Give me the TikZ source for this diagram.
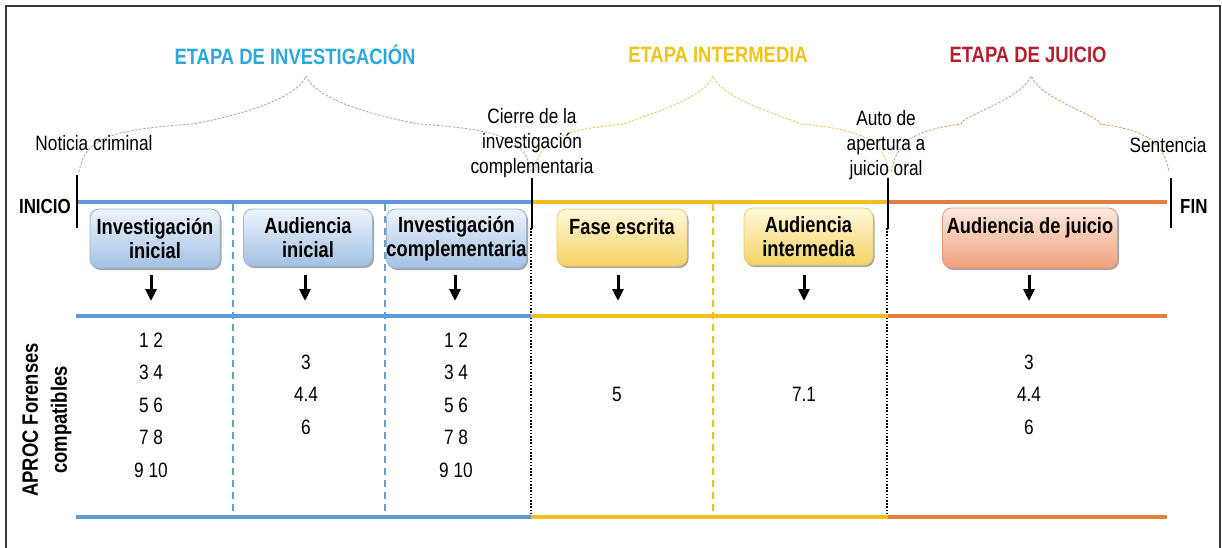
\documentclass[tikz,border=0pt]{standalone}
\usepackage{fontspec}
\setmainfont{Liberation Sans}[FakeStretch=0.83]
\usetikzlibrary{arrows.meta,shadows}
\definecolor{lineblue}{HTML}{5B9BD5}
\definecolor{lineyellow}{HTML}{F2BF1E}
\definecolor{lineorange}{HTML}{E0803E}
\definecolor{ttlblue}{HTML}{2DA8DC}
\definecolor{ttlyellow}{HTML}{F0C419}
\definecolor{ttlred}{HTML}{B3202D}
\definecolor{braceblue}{HTML}{8FA8C4}
\definecolor{braceyellow}{HTML}{E8C65A}
\definecolor{braceorange}{HTML}{D49A6A}
\definecolor{sepblue}{HTML}{6A9ED3}
\definecolor{framecol}{HTML}{3A3A3A}
\definecolor{bbdraw}{HTML}{97B6DC}
\definecolor{bbtop}{HTML}{EEF4FB}
\definecolor{bbbot}{HTML}{A3C1E4}
\definecolor{bydraw}{HTML}{EDCB6A}
\definecolor{bytop}{HTML}{FFF8DC}
\definecolor{bybot}{HTML}{F6D266}
\definecolor{bodraw}{HTML}{E89A77}
\definecolor{botop}{HTML}{FDE9DF}
\definecolor{bobot}{HTML}{EFA07B}
\newcommand{\mybrace}[4]{%
  \draw[bracepath,#4] (#1,172) .. controls (#1+6,140) and (#1+25,130) .. ({(#1+#2)/2},124)
    .. controls (#2-70,116) and (#2-10,100) .. (#2,76)
    .. controls (#2+10,100) and (#2+70,116) .. ({(#2+#3)/2},124)
    .. controls (#3-25,130) and (#3-6,140) .. (#3,172);}
\begin{document}
\begin{tikzpicture}[x=1pt,y=-1pt,
  lbl/.style={font=\fontsize{20.8}{25}\selectfont, align=center, inner sep=0pt},
  ttl/.style={font=\bfseries\fontsize{22.2}{26}\selectfont, inner sep=0pt},
  num/.style={font=\fontsize{20.8}{32.5}\selectfont, align=center, inner sep=0pt},
  endlbl/.style={font=\bfseries\fontsize{20.4}{24}\selectfont, inner sep=0pt},
  bracepath/.style={line width=0.8pt, dash pattern=on 2.5pt off 1.5pt},
  tline/.style={line width=4pt},
  bar/.style={line width=2.6pt, black},
  sepdash/.style={line width=1.3pt, dash pattern=on 7pt off 5pt},
  sepdot/.style={line width=1.6pt, black, dash pattern=on 1.6pt off 1.6pt},
  darr/.style={line width=3pt, black, -{Triangle[width=11pt,length=12pt]}},
  boxbase/.style={rounded corners=9pt, line width=0.8pt, inner sep=0pt, align=center,
    font=\bfseries\fontsize{22}{24.5}\selectfont,
    drop shadow={shadow xshift=1.5pt, shadow yshift=-2pt, opacity=0.35, fill=black}},
  boxblue/.style={boxbase, draw=bbdraw, top color=bbtop, bottom color=bbbot},
  boxyellow/.style={boxbase, draw=bydraw, top color=bytop, bottom color=bybot},
  boxorange/.style={boxbase, draw=bodraw, top color=botop, bottom color=bobot},
]
\useasboundingbox (0,0) rectangle (1222,548);
\fill[white] (0,0) rectangle (1222,548);
\draw[framecol, line width=1.5pt] (6,556) -- (6,6) -- (1220,6) -- (1220,556);

% titles
\node[ttl, text=ttlblue] (t1) at (295,55) {ETAPA DE INVESTIGACIÓN};
\node[ttl, text=ttlyellow] (t2) at (718,55) {ETAPA INTERMEDIA};
\node[ttl, text=ttlred] (t3) at (1028,55) {ETAPA DE JUICIO};

% braces
\mybrace{79}{306}{531}{braceblue}
\mybrace{534}{713}{889}{braceyellow}
\mybrace{891}{1031}{1169}{braceorange}

% milestone labels
\node[lbl] (noticia) at (94,143) {Noticia criminal};
\node[lbl] (cierre) at (532,143) {Cierre de la\\investigación\\complementaria};
\node[lbl] (auto) at (886,145) {Auto de\\apertura a\\juicio oral};
\node[lbl] (sent) at (1168,145) {Sentencia};

% separators
\draw[sepdash, sepblue] (233,204) -- (233,517);
\draw[sepdash, sepblue] (385,204) -- (385,517);
\draw[sepdash, lineyellow] (713,204) -- (713,517);
\draw[sepdot] (531,228) -- (531,517);
\draw[sepdot] (887,228) -- (887,517);

% horizontal lines
\foreach \yy in {202,316,517}{
  \draw[tline, lineblue] (76,\yy) -- (531,\yy);
  \draw[tline, lineyellow] (531,\yy) -- (888,\yy);
  \draw[tline, lineorange] (888,\yy) -- (1167,\yy);
}

% milestone bars
\coordinate (b0t) at (77,175); \coordinate (b0b) at (77,228);
\coordinate (b1t) at (532,178); \coordinate (b1b) at (532,229);
\coordinate (b2t) at (888,178); \coordinate (b2b) at (888,229);
\coordinate (b3t) at (1171,178); \coordinate (b3b) at (1171,228);
\draw[bar] (b0t) -- (b0b);
\draw[bar] (b1t) -- (b1b);
\draw[bar] (b2t) -- (b2b);
\draw[bar] (b3t) -- (b3b);
\node[endlbl, anchor=east] (inicio) at (71,206) {INICIO};
\node[endlbl, anchor=west] (fin) at (1180,206) {FIN};

% boxes
\node[boxblue, minimum width=130pt, minimum height=59pt] (bx1) at (155,238.5) {Investigación\\inicial};
\node[boxblue, minimum width=129pt, minimum height=57pt] (bx2) at (308,237.5) {Audiencia\\inicial};
\node[boxblue, minimum width=139pt, minimum height=59pt] (bx3) at (456.5,238.5) {Investigación\\complementaria};
\node[boxyellow, minimum width=130pt, minimum height=57pt] (bx4) at (622,237.5) {\raisebox{11pt}[\height][\depth]{Fase escrita}};
\node[boxyellow, minimum width=129pt, minimum height=57pt] (bx5) at (808.5,236.5) {Audiencia\\intermedia};
\node[boxorange, minimum width=175pt, minimum height=60pt] (bx6) at (1030,238) {\raisebox{10pt}[\height][\depth]{Audiencia de juicio}};

% arrows
\foreach \xx/\nm in {151/a1,305/a2,455/a3,618/a4,804/a5,1029/a6}{
  \coordinate (\nm s) at (\xx,275);
  \coordinate (\nm e) at (\xx,301);
  \draw[darr] (\nm s) -- (\nm e);
}

% side label
\node[rotate=90, font=\bfseries\fontsize{22.2}{29}\selectfont, align=center, inner sep=0pt] (aproc) at (47,420) {APROC Forenses\\compatibles};

% numbers
\node[num] (c1) at (151,405) {1 2\\3 4\\5 6\\7 8\\9 10};
\node[num] (c2) at (306,394.5) {3\\4.4\\6};
\node[num] (c3) at (456,405) {1 2\\3 4\\5 6\\7 8\\9 10};
\node[num] (c4) at (617,394) {5};
\node[num] (c5) at (804,394) {7.1};
\node[num] (c6) at (1029,394.5) {3\\4.4\\6};
\end{tikzpicture}
\end{document}
